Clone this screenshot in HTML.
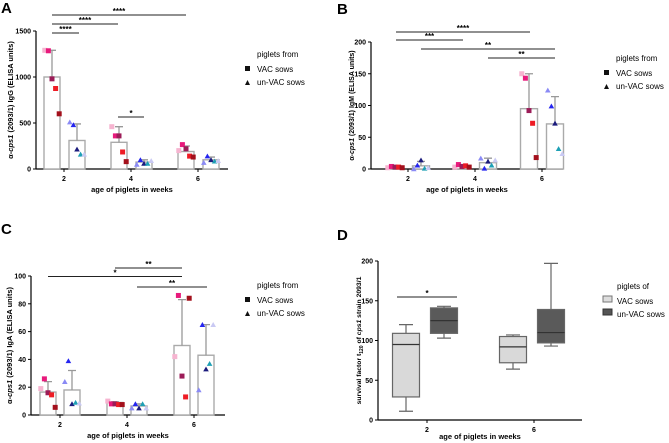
<!DOCTYPE html>
<html><head><meta charset="utf-8"><style>
html,body{margin:0;padding:0;background:#fff}
svg{display:block;font-family:"Liberation Sans",Arial,sans-serif}
</style></head><body>
<svg id="fig" width="669" height="443" viewBox="0 0 669 443" xmlns="http://www.w3.org/2000/svg"></svg>
<script>
// ---- data ----
const weeksABC = ["2","4","6"];
const weeksD = ["2","6"];
const aVacBar = [1000, 290, 190];
const aVacErr = [1290, 460, 250];
const aUnBar = [310, 75, 100];
const aUnErr = [490, 100, 130];
const aVacPts = [[1290,1285,980,875,600],[460,360,360,185,80],[200,265,220,140,130]];
const aUnPts = [[510,480,215,160,160],[50,100,60,60,90],[70,140,100,85,90]];
const aTicks = [0,500,1000,1500];
const bVacBar = [3, 4, 95];
const bVacErr = [4, 7, 150];
const bUnBar = [5, 10, 71];
const bUnErr = [12, 17, 114];
const bVacPts = [[2,4,3,3,2],[3,7,4,5,3],[150,143,92,72,18]];
const bUnPts = [[0,6,14,1,2],[17,1,12,6,14],[124,99,72,32,24]];
const bTicks = [0,50,100,150,200];
const cVacBar = [16.5, 9, 50];
const cVacErr = [24, 9.5, 83];
const cUnBar = [18, 6.5, 43];
const cUnErr = [32, 8, 65];
const cVacPts = [[19,26,16,14.5,5.5],[10,8,8,7.5,7.5],[42,86,28,13,84]];
const cUnPts = [[24,39,8,9,8.5],[5,8,5,8,5],[18,65,33,37,65]];
const cTicks = [0,20,40,60,80,100];
const dVacMin = [11, 64], dVacQ1 = [29, 72], dVacMed = [95, 92], dVacQ3 = [109, 105], dVacMax = [120, 107];
const dUnMin = [103, 93], dUnQ1 = [109, 97], dUnMed = [125, 110], dUnQ3 = [141, 139], dUnMax = [143, 197];
const dTicks = [0,50,100,150,200];
// ----
const vacColors = ["#f6b4d0","#e81a7c","#9c1c58","#ee1c25","#a3101c"];
const unColors = ["#8a8af5","#2525f0","#1b1b7d","#1ea0b5","#c9c9f3"];
const NS="http://www.w3.org/2000/svg";
const svg=document.getElementById('fig');
function mk(tag,attrs,parent,txt){const e=document.createElementNS(NS,tag);for(const k in attrs)e.setAttribute(k,attrs[k]);if(txt!==undefined)e.textContent=txt;(parent||svg).appendChild(e);return e;}
function axes(g,P,ticks,cats,ylabel,xlabel){
  const y=v=>P.y0-(v-ticks[0])/(ticks[ticks.length-1]-ticks[0])*(P.y0-P.y1);
  let a=mk('line',{x1:P.ax,y1:P.y1,x2:P.ax,y2:P.y0,stroke:'#000','stroke-width':1.2},g);
  
  a=mk('line',{x1:P.ax,y1:P.y0,x2:P.axEnd,y2:P.y0,stroke:'#000','stroke-width':1.2},g);
  
  ticks.forEach(t=>{mk('line',{x1:P.ax-3,y1:y(t),x2:P.ax,y2:y(t),stroke:'#000'},g);
    const tx=mk('text',{x:P.ax-5,y:y(t)+2.5,'font-size':7,'font-weight':'bold','text-anchor':'end'},g,String(t));
    });
  cats.forEach((c,i)=>{const x=P.cx[i];mk('line',{x1:x,y1:P.y0,x2:x,y2:P.y0+3,stroke:'#000'},g);
    const tx=mk('text',{x:x,y:P.y0+12,'font-size':7,'font-weight':'bold','text-anchor':'middle'},g,c);
    });
  let t=mk('text',{x:(P.ax+P.axEnd)/2,y:P.y0+(P.xtOff||23),'font-size':7.5,'font-weight':'bold','text-anchor':'middle'},g,xlabel);
  
  const my=(P.y0+P.y1)/2;
  t=mk('text',{x:P.ylx,y:my,'font-size':P.ylfs||7.5,'font-weight':'bold','text-anchor':'middle',transform:`rotate(-90 ${P.ylx} ${my})`},g);
  t.innerHTML=ylabel;
  
  return y;
}
function legend(g,x,y0,title,dark){
  let t=mk('text',{x:x+12,y:y0,'font-size':8},g,title);
  let s;
  if(dark){s=mk('rect',{x:x-2,y:y0+7,width:9,height:6,fill:'#ddd',stroke:'#777'},g);}
  else s=mk('rect',{x:x,y:y0+9,width:5,height:5,fill:'#111'},g);
  
  t=mk('text',{x:x+12,y:y0+15,'font-size':8},g,'VAC sows');
  if(dark){s=mk('rect',{x:x-2,y:y0+20,width:9,height:6,fill:'#555',stroke:'#333'},g);}
  else s=mk('path',{d:`M${x} ${y0+28}L${x+5} ${y0+28}L${x+2.5} ${y0+23}Z`,fill:'#111'},g);
  
  t=mk('text',{x:x+12,y:y0+28,'font-size':8},g,'un-VAC sows');
}
function sig(g,x1,x2,y,label){
  let l=mk('line',{x1,y1:y,x2,y2:y,stroke:'#222','stroke-width':1},g);
  
  let t=mk('text',{x:(x1+x2)/2,y:y-1,'font-size':8,'font-weight':'bold','text-anchor':'middle'},g,label);
  
}
const jit=[-5,5,0,0,0];
function bars(g,y,P,vals,errs,pts,off,tri){
  vals.forEach((v,i)=>{
    const cx=P.cx[i]+off, w=P.bw;
    const r=mk('rect',{x:cx-w/2,y:y(v),width:w,height:P.y0-y(v),fill:'#fff',stroke:'#aaa','stroke-width':1.4},g);
    
    const e=mk('path',{d:`M${cx} ${y(v)}V${y(errs[i])}M${cx-4} ${y(errs[i])}H${cx+4}`,stroke:'#999','stroke-width':1.3,fill:'none'},g);
    
    pts[i].forEach((p,j)=>{
      const px=cx+(j-2)*3.6, py=y(p), col=tri?unColors[j]:vacColors[j];
      let m;
      if(tri) m=mk('path',{d:`M${px-2.8} ${py+2.3}L${px+2.8} ${py+2.3}L${px} ${py-2.6}Z`,fill:col},g);
      else m=mk('rect',{x:px-2.5,y:py-2.5,width:5,height:5,fill:col},g);
      
    });
  });
}
function panelLetter(x,y,L){const t=mk('text',{x,y,'font-size':15,'font-weight':'bold'},svg,L);}
const XL='age of piglets in weeks';
// Panel A
{const g=mk('g',{});
 panelLetter(1,13,'A');
 const P={ax:36,axEnd:228,y0:169,y1:31,cx:[64,131,198],bw:16,ylx:13};
 const y=axes(g,P,aTicks,weeksABC,'α-<tspan font-style="italic">cps1</tspan> (2093/1) IgG (ELISA units)',XL);
 bars(g,y,P,aVacBar,aVacErr,aVacPts,-12,false);bars(g,y,P,aUnBar,aUnErr,aUnPts,13,true);
 sig(g,52,186,15,'****');sig(g,52,118,24,'****');sig(g,52,79,33,'****');sig(g,118,144,117,'*');
 legend(g,245,57,'piglets from',false);}
// Panel B
{const g=mk('g',{});
 panelLetter(337,14,'B');
 const P={ax:371,axEnd:563,y0:169,y1:42,cx:[408,475,542],bw:17,ylx:354,ylfs:7};
 const y=axes(g,P,bTicks,weeksABC,'α-<tspan font-style="italic">cps1</tspan> (2093/1) IgM (ELISA units)',XL);
 bars(g,y,P,bVacBar,bVacErr,bVacPts,-13,false);bars(g,y,P,bUnBar,bUnErr,bUnPts,13,true);
 sig(g,396,530,32,'****');sig(g,396,463,40,'***');sig(g,421,555,49,'**');sig(g,488,555,58,'**');
 legend(g,604,61,'piglets from',false);}
// Panel C
{const g=mk('g',{});
 panelLetter(1,234,'C');
 const P={ax:31,axEnd:225,y0:415,y1:276,cx:[60,127,194],bw:16,ylx:12};
 const y=axes(g,P,cTicks,weeksABC,'α-<tspan font-style="italic">cps1</tspan> (2093/1) IgA (ELISA units)',XL);
 bars(g,y,P,cVacBar,cVacErr,cVacPts,-12,false);bars(g,y,P,cUnBar,cUnErr,cUnPts,12,true);
 sig(g,115,182,268,'**');sig(g,48,182,276.5,'*');sig(g,137,207,287,'**');
 legend(g,245,288,'piglets from',false);}
// Panel D
{const g=mk('g',{});
 panelLetter(337,240,'D');
 const P={ax:378,axEnd:582,y0:420,y1:261,cx:[427,534],bw:27,ylx:361,ylfs:6.8,xtOff:19};
 const y=axes(g,P,dTicks,weeksD,'survival factor t<tspan font-size="5" dy="2">120</tspan><tspan dy="-2"> of </tspan><tspan font-style="italic">cps1</tspan> strain 2093/1',XL);
 function box(mins,q1,med,q3,maxs,off,fill,name){
  mins.forEach((_,i)=>{const cx=P.cx[i]+off,w=P.bw;
   const wh=mk('path',{d:`M${cx} ${y(maxs[i])}V${y(q3[i])}M${cx} ${y(q1[i])}V${y(mins[i])}M${cx-7} ${y(maxs[i])}H${cx+7}M${cx-7} ${y(mins[i])}H${cx+7}`,stroke:'#666','stroke-width':1.2,fill:'none'},g);
   
   const r=mk('rect',{x:cx-w/2,y:y(q3[i]),width:w,height:y(q1[i])-y(q3[i]),fill,stroke:'#666','stroke-width':1.2},g);
   
   const m=mk('line',{x1:cx-w/2,x2:cx+w/2,y1:y(med[i]),y2:y(med[i]),stroke:'#333','stroke-width':1.2},g);
   });
 }
 box(dVacMin,dVacQ1,dVacMed,dVacQ3,dVacMax,-21,'#d9d9d9','box-vac');
 box(dUnMin,dUnQ1,dUnMed,dUnQ3,dUnMax,17,'#5a5a5a','box-unvac');
 sig(g,397,457,297,'*');
 legend(g,605,289,'piglets of',true);}
</script>
</body></html>
